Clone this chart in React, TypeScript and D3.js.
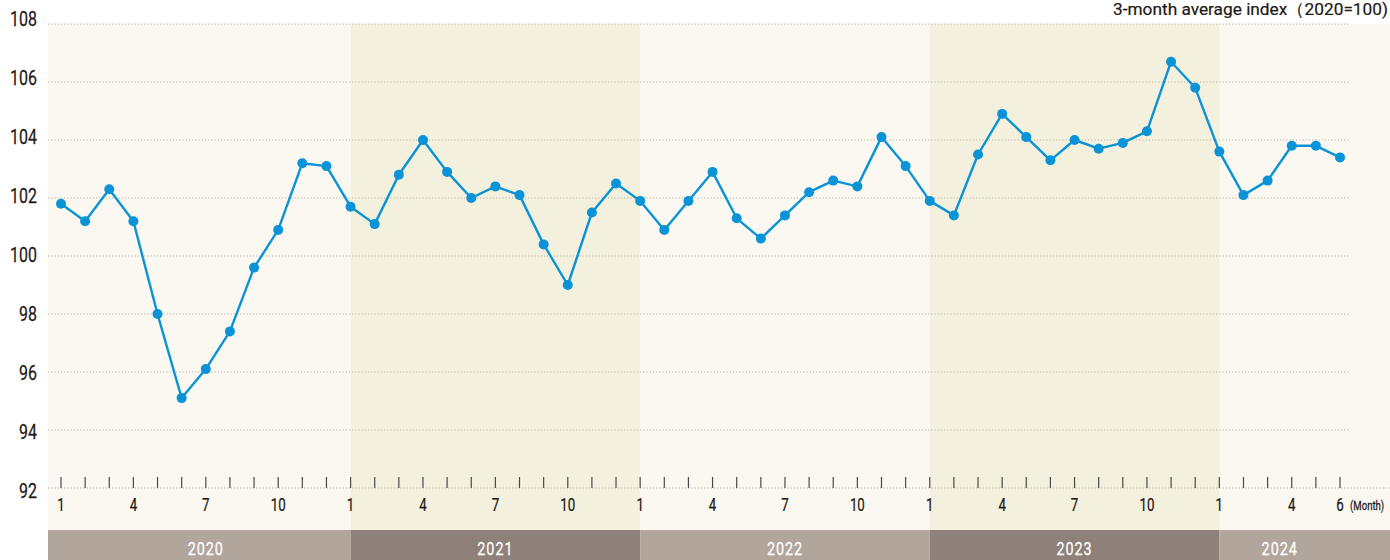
import React from "react";
import * as d3 from "d3";

const years = ["2020", "2021", "2022", "2023", "2024"];
const v2020 = [101.8, 101.2, 102.3, 101.2, 98.0, 95.1, 96.1, 97.4, 99.6, 100.9, 103.2, 103.1];
const v2021 = [101.7, 101.1, 102.8, 104.0, 102.9, 102.0, 102.4, 102.1, 100.4, 99.0, 101.5, 102.5];
const v2022 = [101.9, 100.9, 101.9, 102.9, 101.3, 100.6, 101.4, 102.2, 102.6, 102.4, 104.1, 103.1];
const v2023 = [101.9, 101.4, 103.5, 104.9, 104.1, 103.3, 104.0, 103.7, 103.9, 104.3, 106.7, 105.8];
const v2024 = [103.6, 102.1, 102.6, 103.8, 103.8, 103.4];
const yTicks = [92, 94, 96, 98, 100, 102, 104, 106, 108];
const monthLabels = ["1", "4", "7", "10"];
const lastMonthLabel = "6";

const W = 1390;
const H = 560;
const left = 48;
const top = 24;
const plotBottom = 488;
const bandBottom = 530;
const gridRight = 1349;

const font = "Roboto, 'Liberation Sans', sans-serif";
const ink = "#231815";
const lineColor = "#0a93d6";
const bandLight = "#faf8f1";
const bandDark = "#f4f0de";
const barLight = "#b2a59c";
const barDark = "#8f8179";

// condensed text: Roboto squeezed horizontally around its anchor point
function CText({ x, y, size, anchor = "middle", fill = ink, sx = 0.78, spacing = 0, children }: any) {
  return (
    <text
      transform={`translate(${x},${y}) scale(${sx},1)`}
      fontSize={size}
      textAnchor={anchor}
      fill={fill}
      stroke={fill}
      strokeWidth={0.25}
      letterSpacing={spacing}
    >
      {children}
    </text>
  );
}

export default function App() {
  const series = [v2020, v2021, v2022, v2023, v2024];
  const values = series.flat();
  const n = values.length;

  const x = d3.scaleLinear().domain([0, n - 1]).range([61, 1340]);
  const y = d3.scaleLinear().domain([92, 108]).range([plotBottom, top]);
  // the labels in the original sit a little off the grid, more at the top
  const yLabel = d3.scaleLinear().domain([92, 108]).range([490, 18]);

  const line = d3
    .line<number>()
    .x((d, i) => x(i))
    .y((d) => y(d));

  const yearInfo = series.map((s, k) => {
    const start = k * 12;
    const end = start + s.length;
    const x0 = k === 0 ? left : x(start);
    const x1 = k === series.length - 1 ? W : x(end);
    const tx = (x(start) + (end < n ? x(end) : x(n - 1))) / 2;
    return { year: years[k], start, len: s.length, x0, x1, tx, dark: k % 2 === 1 };
  });

  return (
    <svg
      width={W}
      height={H}
      style={{ position: "absolute", left: 0, top: 0, fontFamily: font }}
    >
      <rect x={0} y={0} width={W} height={H} fill="#fff" />

      {yearInfo.map((d) => (
        <g key={d.year}>
          <rect x={d.x0} y={top} width={d.x1 - d.x0} height={bandBottom - top} fill={d.dark ? bandDark : bandLight} />
          <rect x={d.x0} y={bandBottom} width={d.x1 - d.x0} height={H - bandBottom} fill={d.dark ? barDark : barLight} />
          <CText x={d.tx} y={555} size={18} fill="#fff" sx={0.8} spacing={1.2}>
            {d.year}
          </CText>
        </g>
      ))}

      {yTicks.map((t) => (
        <g key={t}>
          <line
            x1={left}
            x2={t === 92 ? W : gridRight}
            y1={y(t)}
            y2={y(t)}
            stroke="#b8b2a8"
            strokeWidth={1.2}
            strokeDasharray="1.2,2"
          />
          <CText x={37} y={yLabel(t) + 7.5} size={21} anchor="end" sx={0.76}>
            {t}
          </CText>
        </g>
      ))}

      {values.map((v, i) => (
        <line key={"tk" + i} x1={x(i)} x2={x(i)} y1={477} y2={plotBottom} stroke="#4a4a4a" strokeWidth={1.2} />
      ))}

      {yearInfo.map((d) =>
        monthLabels
          .filter((m) => +m <= d.len)
          .map((m) => (
            <CText key={d.year + m} x={x(d.start + +m - 1)} y={511} size={18} sx={0.74}>
              {m}
            </CText>
          ))
      )}
      <CText x={x(n - 1)} y={511} size={18} sx={0.74}>
        {lastMonthLabel}
      </CText>
      <CText x={1350} y={510} size={12} anchor="start" sx={0.8}>
        (Month)
      </CText>

      <path d={line(values) || ""} fill="none" stroke={lineColor} strokeWidth={2.4} strokeLinejoin="round" />
      {values.map((v, i) => (
        <circle key={"pt" + i} cx={x(i)} cy={y(v)} r={5} fill={lineColor} />
      ))}

      <text
        x={1113}
        y={15}
        fontSize={17}
        fill={ink}
        stroke={ink}
        strokeWidth={0.2}
        textLength={275}
        lengthAdjust="spacingAndGlyphs"
      >
        3-month average index（2020=100)
      </text>
    </svg>
  );
}
